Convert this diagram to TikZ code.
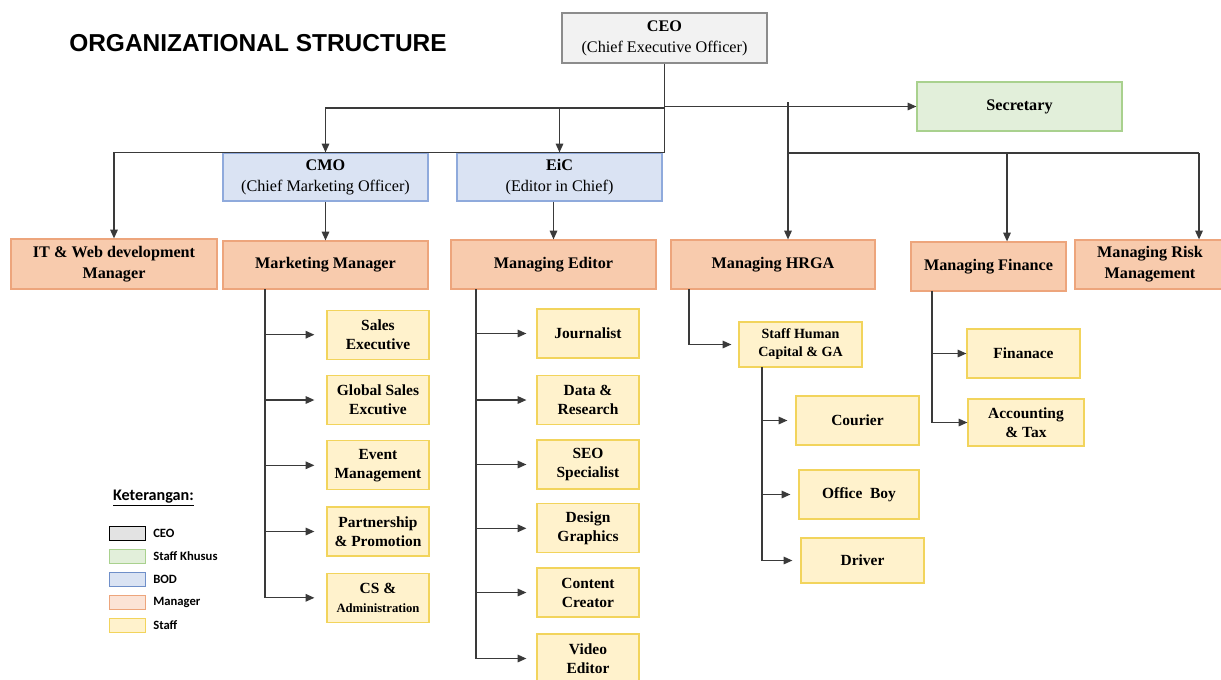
\documentclass[tikz,border=0pt]{standalone}
\usepackage{fontspec}
\setmainfont{Liberation Serif}
\newfontfamily\titlefont{Liberation Sans}
\newfontfamily\keyfont{Carlito}
\usepackage{tikz}
\usetikzlibrary{calc,arrows.meta}

\definecolor{ceofill}{HTML}{F2F2F2}
\definecolor{ceoline}{HTML}{8C8C8C}
\definecolor{secfill}{HTML}{E2EFDA}
\definecolor{secline}{HTML}{A9D18E}
\definecolor{bodfill}{HTML}{DAE3F3}
\definecolor{bodline}{HTML}{8FAADC}
\definecolor{mgrfill}{HTML}{F8CBAD}
\definecolor{mgrline}{HTML}{EDA57C}
\definecolor{stafffill}{HTML}{FFF2CC}
\definecolor{staffline}{HTML}{F2D45C}
\definecolor{linegray}{HTML}{3A3A3A}
\definecolor{keygray}{HTML}{E3E3E3}
\definecolor{keyblue}{HTML}{6F8FC9}
\definecolor{keyorange}{HTML}{FBE3D6}

\begin{document}
\begin{tikzpicture}[x=0.025cm,y=-0.025cm,
    box/.style={draw,line width=0.85pt,align=center,inner sep=2pt,
      font=\fontsize{11.5}{15}\selectfont\bfseries},
    ceobox/.style={box,fill=ceofill,draw=ceoline,minimum width=5.125cm,minimum height=1.25cm},
    secbox/.style={box,fill=secfill,draw=secline,minimum width=5.125cm,minimum height=1.225cm},
    bodbox/.style={box,fill=bodfill,draw=bodline,minimum width=5.125cm,minimum height=1.2cm},
    mgrbox/.style={box,fill=mgrfill,draw=mgrline,minimum height=1.225cm},
    staffbox/.style={box,fill=stafffill,draw=staffline,minimum width=2.55cm,minimum height=1.225cm,
      font=\fontsize{11}{13.5}\selectfont\bfseries},
    conn/.style={draw=linegray,line width=0.9pt},
    >={Triangle[length=2.2mm,width=1.9mm]}]
    \useasboundingbox (0,0) rectangle (1221,679);

    \node[anchor=west,inner sep=0,font=\titlefont\fontsize{17.4}{20}\selectfont\bfseries] (title) at (69,43) {ORGANIZATIONAL STRUCTURE};

    % top level
    \node[ceobox] (ceo) at (664.5,38) {CEO\\\mdseries (Chief\ Executive\ Officer)};
    \node[secbox] (sec) at (1019.5,106.5) {Secretary};
    \node[bodbox] (cmo) at (325.5,177) {CMO\\\mdseries (Chief\ Marketing\ Officer)};
    \node[bodbox] (eic) at (559.5,177) {EiC\\\mdseries (Editor\ in\ Chief)};

    % managers
    \node[mgrbox,minimum width=5.15cm,minimum height=1.25cm] (it) at (114,264) {IT \& Web development\\Manager};
    \node[mgrbox,minimum width=5.125cm,minimum height=1.2cm] (mm) at (325.5,265) {Marketing Manager};
    \node[mgrbox,minimum width=5.125cm] (med) at (553.5,264.5) {Managing Editor};
    \node[mgrbox,minimum width=5.1cm] (hrga) at (773,264.5) {Managing HRGA};
    \node[mgrbox,minimum width=3.875cm] (mfin) at (988.5,266.5) {Managing Finance};
    \node[mgrbox,minimum width=3.75cm] (risk) at (1150,264.5) {Managing Risk\\Management};

    % marketing staff
    \node[staffbox] (sales) at (378,334.7) {Sales\\Executive};
    \node[staffbox] (gsales) at (378,400) {Global Sales\\Excutive};
    \node[staffbox] (event) at (378,465.3) {Event\\Management};
    \node[staffbox] (partner) at (378,531.5) {Partnership\\\& Promotion};
    \node[staffbox] (cs) at (378,597.8) {CS \&\\\fontsize{9}{11}\selectfont Administration};

    % editorial staff
    \node[staffbox] (journ) at (588,333.5) {Journalist};
    \node[staffbox] (data) at (588,400) {Data \&\\Research};
    \node[staffbox] (seo) at (588,464.5) {SEO\\Specialist};
    \node[staffbox] (design) at (588,528.3) {Design\\Graphics};
    \node[staffbox] (content) at (588,592.5) {Content\\Creator};
    \node[staffbox] (video) at (588,658.5) {Video\\Editor};

    % HRGA staff
    \node[staffbox,minimum width=3.075cm,minimum height=1.125cm,
      font=\fontsize{10}{12.8}\selectfont\bfseries] (hcga) at (800.5,344.5) {Staff Human\\Capital \& GA};
    \node[staffbox,minimum width=3.075cm] (courier) at (857.5,420.5) {Courier};
    \node[staffbox,minimum width=3cm] (oboy) at (859,494.5) {Office\ \ Boy};
    \node[staffbox,minimum width=3.075cm,minimum height=1.125cm] (driver) at (862.5,560.5) {Driver};

    % finance staff
    \node[staffbox,minimum width=2.825cm] (fin) at (1023.5,353.5) {Finanace};
    \node[staffbox,minimum width=2.9cm,minimum height=1.175cm] (acct) at (1026,422.5) {Accounting\\\& Tax};

    % legend
    \node[inner sep=0,font=\keyfont\fontsize{11.5}{13}\selectfont\bfseries] (ket) at (153.5,498) {\underline{Keterangan:}};
    \foreach \fc/\dc/\lab [count=\i] in {keygray/black/CEO, secfill/secline/Staff Khusus,
        bodfill/keyblue/BOD, keyorange/mgrline/Manager, stafffill/staffline/Staff} {
      \node[draw=\dc,fill=\fc,line width=0.7pt,minimum width=0.9cm,minimum height=0.35cm,inner sep=0] (key\i) at (127,510+23*\i) {};
      \node[anchor=west,inner sep=0,font=\keyfont\fontsize{9}{11}\selectfont\bfseries] (lab\i) at (153,510+23*\i) {\lab};
    }

    % CEO connectors
    \coordinate (busL) at (664.5,108);
    \draw[conn,->] (ceo.south) |- (it.north |- cmo.north) -- (it.north);
    \draw[conn,->] (busL) -| (cmo.north);
    \draw[conn,->] (busL) -| (eic.north);
    \draw[conn,->] (ceo.south |- sec.west) -- (sec.west);
    \draw[conn,->] (cmo.south) -- (mm.north);
    \draw[conn,->] (eic.south -| med.north) -- (med.north);

    % right bus
    \coordinate (hrTop) at (788,102);
    \coordinate (finDrop) at (1007,153);
    \coordinate (riskDrop) at (1199,153);
    \draw[conn,->] (hrTop) -- (hrTop |- hrga.north);
    \draw[conn] (hrTop |- finDrop) -- (riskDrop);
    \draw[conn,->] (finDrop) -- (finDrop |- mfin.north);
    \draw[conn,->] (riskDrop) -- (riskDrop |- risk.north);

    % marketing
    \coordinate (mkTrunk) at (265,289);
    \draw[conn] (mkTrunk) -- (mkTrunk |- cs.west);
    \foreach \s in {sales,gsales,event,partner,cs}
      \draw[conn,->,shorten >=0.3cm] (mkTrunk |- \s.west) -- (\s.west);

    % editorial
    \coordinate (edTrunk) at (476,289);
    \draw[conn] (edTrunk) -- (edTrunk |- video.west);
    \foreach \s in {journ,data,seo,design,content,video}
      \draw[conn,->,shorten >=0.25cm] (edTrunk |- \s.west) -- (\s.west);

    % HRGA
    \coordinate (hrTrunk) at (689,289);
    \draw[conn,->,shorten >=0.175cm] (hrTrunk) |- (hcga.west);
    \coordinate (hcTrunk) at (762,367);
    \draw[conn] (hcTrunk) -- (hcTrunk |- driver.west);
    \foreach \s in {courier,oboy,driver}
      \draw[conn,->,shorten >=0.2cm] (hcTrunk |- \s.west) -- (\s.west);

    % finance
    \coordinate (fnTrunk) at (932,291);
    \draw[conn] (fnTrunk) -- (fnTrunk |- acct.west);
    \foreach \s in {fin,acct}
      \draw[conn,->] (fnTrunk |- \s.west) -- (\s.west);
\end{tikzpicture}
\end{document}
